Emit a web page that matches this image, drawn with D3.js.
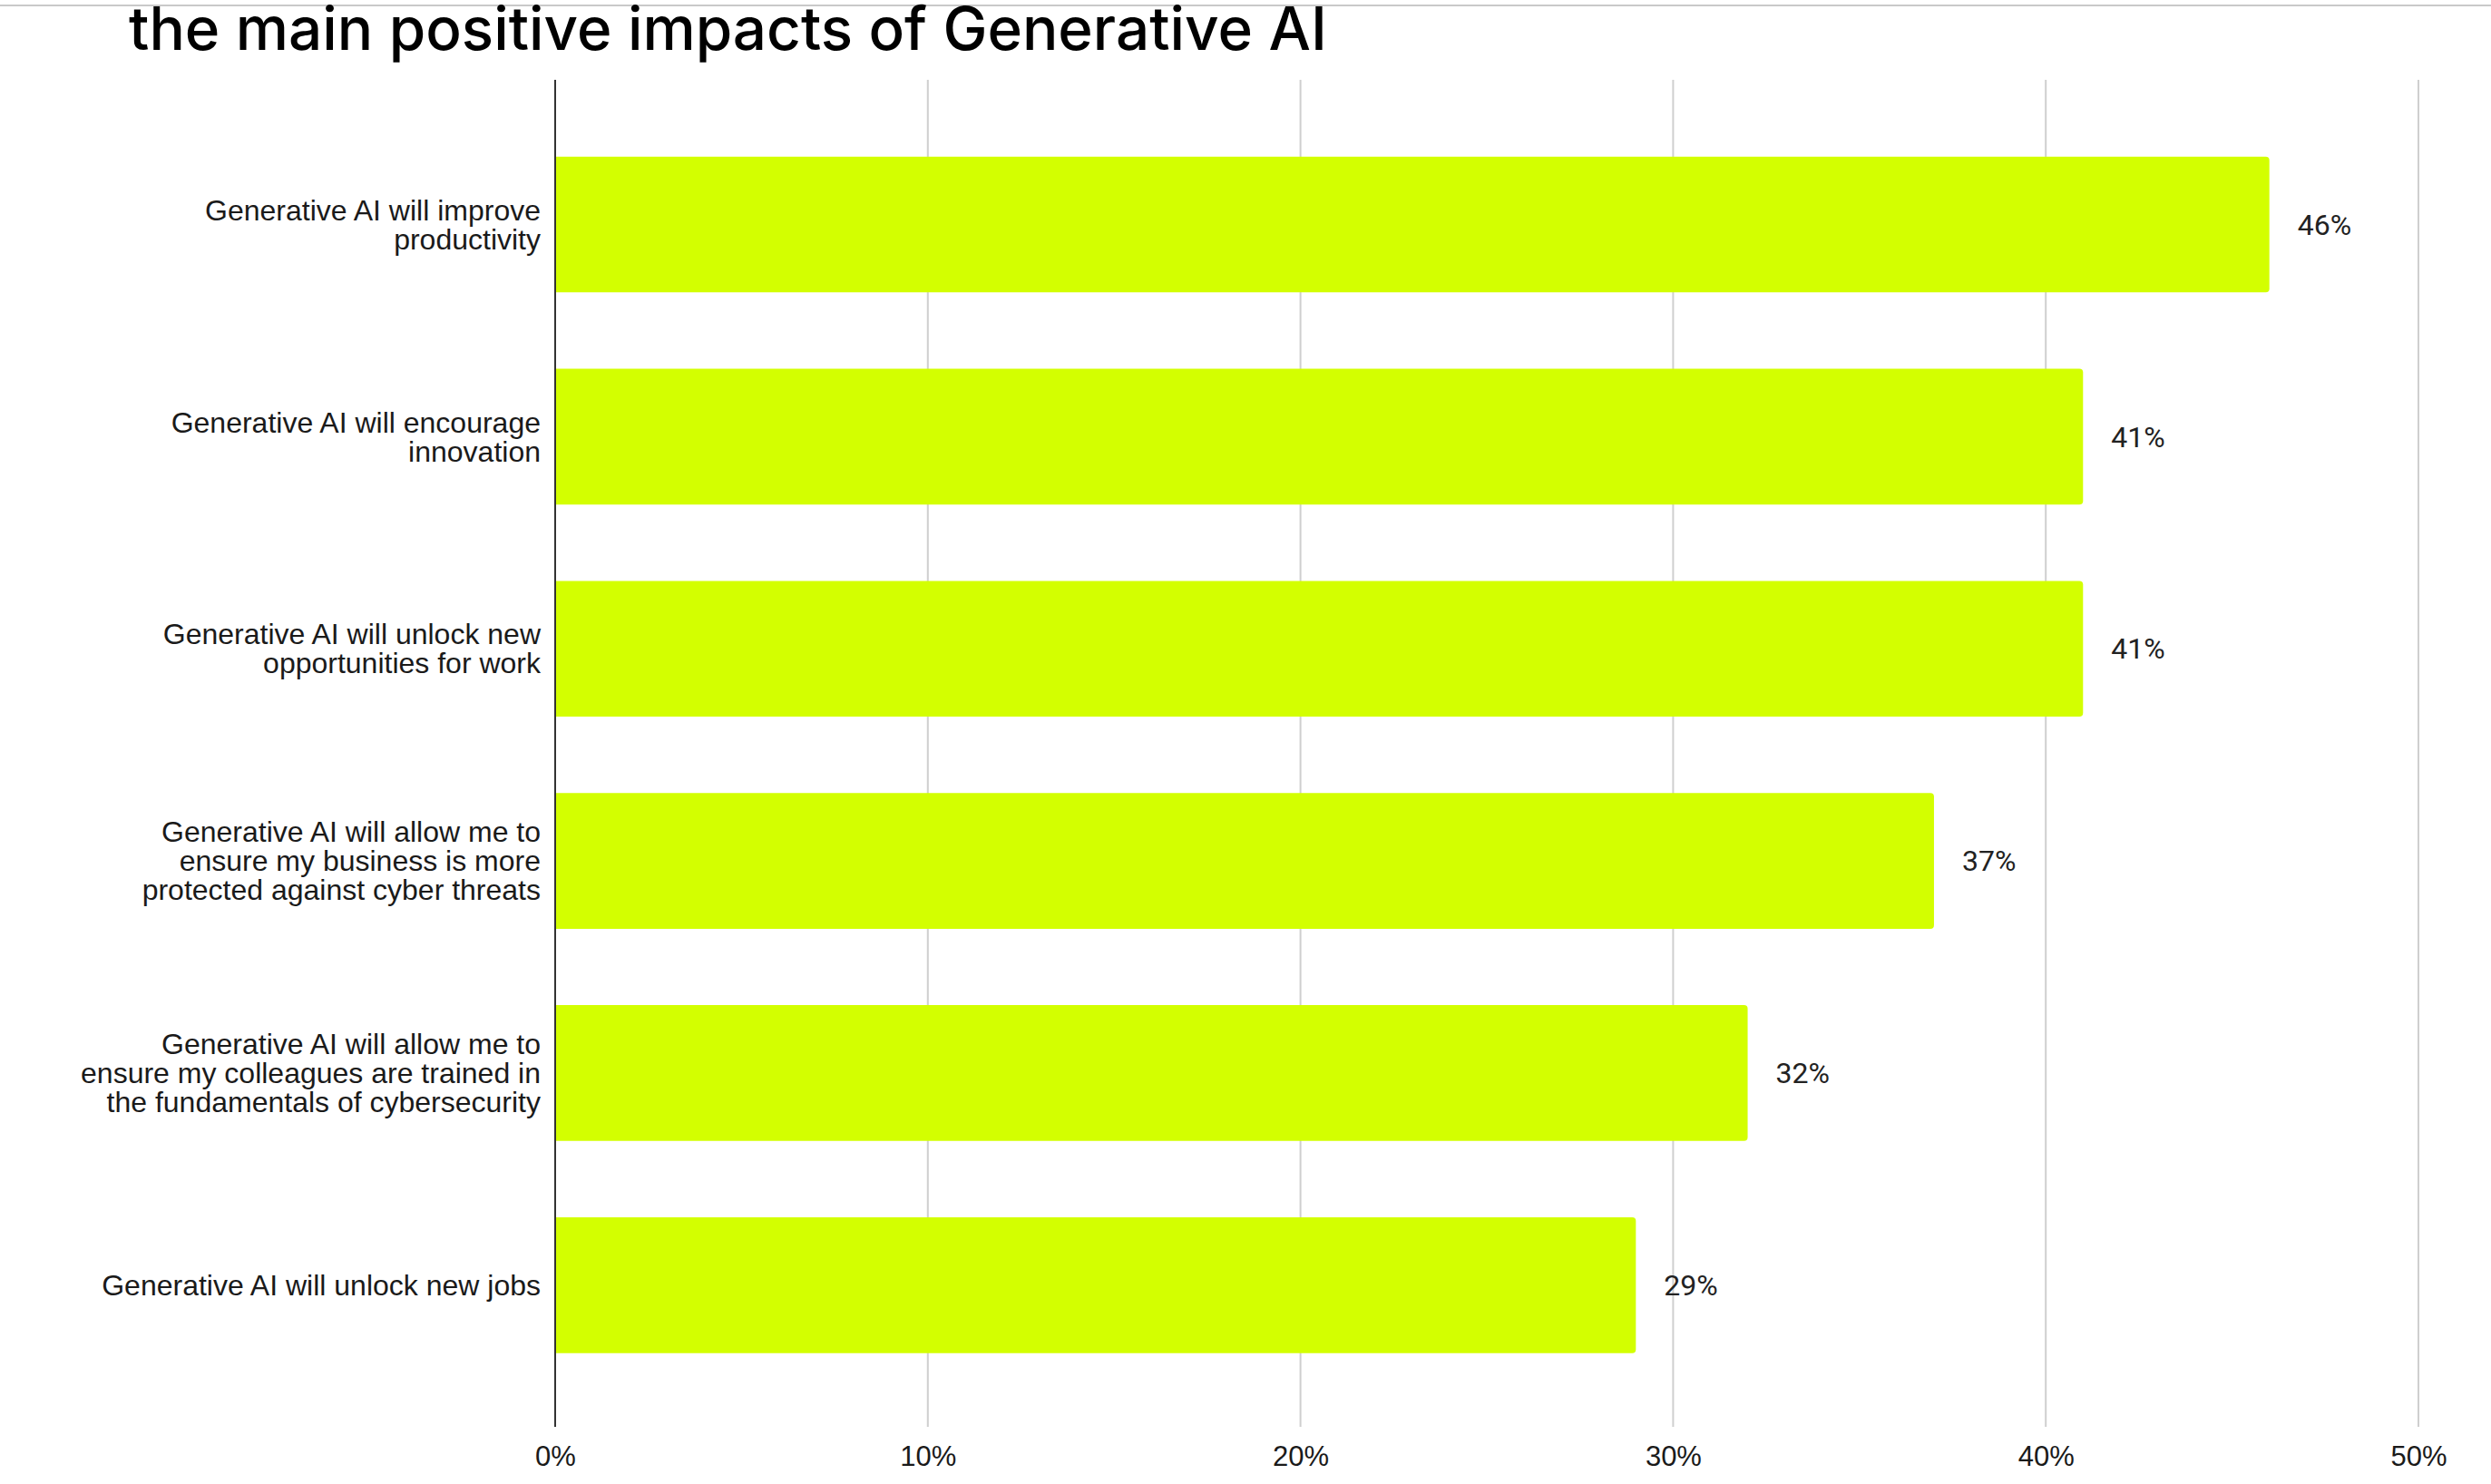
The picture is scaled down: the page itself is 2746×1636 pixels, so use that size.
<!DOCTYPE html>
<html>
<head>
<meta charset="utf-8">
<script src="https://cdn.jsdelivr.net/npm/d3@7"></script>
<style>
  html, body { margin: 0; padding: 0; background: #ffffff; }
  svg { display: block; }
</style>
</head>
<body>
<svg id="chart" width="2746" height="1636"></svg>
<script>
// Survey responses: share of respondents naming each positive impact
const categories = [
  ["Generative AI will improve", "productivity"],
  ["Generative AI will encourage", "innovation"],
  ["Generative AI will unlock new", "opportunities for work"],
  ["Generative AI will allow me to", "ensure my business is more", "protected against cyber threats"],
  ["Generative AI will allow me to", "ensure my colleagues are trained in", "the fundamentals of cybersecurity"],
  ["Generative AI will unlock new jobs"]
];
const values = [46, 41, 41, 37, 32, 29];
const tickValues = [0, 10, 20, 30, 40, 50];
const titleText = "the main positive impacts of Generative AI";

const W = 2746, H = 1636;
const svg = d3.select("#chart");

const plot = { left: 612, right: 2666, top: 88, bottom: 1573 };

const x = d3.scaleLinear().domain([0, 50]).range([plot.left, plot.right]);
const y = d3.scaleBand()
  .domain(d3.range(values.length))
  .range([plot.top, plot.bottom])
  .paddingInner(0.36)
  .paddingOuter(0.355)
  .align(0.51);

// thin rule across the top of the page
svg.append("line")
  .attr("x1", 0).attr("x2", W)
  .attr("y1", 6).attr("y2", 6)
  .attr("stroke", "#c9c9c9").attr("stroke-width", 2);

// title
const title = svg.append("text")
  .attr("x", 142).attr("y", 55)
  .attr("font-family", "Inter, 'Noto Sans', sans-serif")
  .attr("font-weight", 500)
  .attr("font-size", 64)
  .attr("fill", "#000")
  .text(titleText);
const tw = title.node().getComputedTextLength();
title.attr("font-size", 64 * 1321 / tw);

// vertical gridlines
svg.append("g")
  .selectAll("line")
  .data(tickValues.filter(d => d > 0))
  .join("line")
  .attr("x1", d => x(d)).attr("x2", d => x(d))
  .attr("y1", plot.top).attr("y2", plot.bottom)
  .attr("stroke", "#cfcfcf").attr("stroke-width", 2);

// bars with slightly rounded ends
const r = 4;
svg.append("g")
  .selectAll("path")
  .data(values)
  .join("path")
  .attr("fill", "#d3ff00")
  .attr("d", (d, i) => {
    const x0 = x(0), x1 = x(d), y0 = y(i), y1 = y(i) + y.bandwidth();
    return `M${x0},${y0}H${x1 - r}Q${x1},${y0} ${x1},${y0 + r}V${y1 - r}Q${x1},${y1} ${x1 - r},${y1}H${x0}Z`;
  });

// zero axis line
svg.append("line")
  .attr("x1", x(0)).attr("x2", x(0))
  .attr("y1", plot.top).attr("y2", plot.bottom)
  .attr("stroke", "#333").attr("stroke-width", 2);

// value labels
svg.append("g")
  .selectAll("text")
  .data(values)
  .join("text")
  .attr("x", d => x(d) + 31)
  .attr("y", (d, i) => y(i) + y.bandwidth() / 2)
  .attr("dy", "0.35em")
  .attr("font-family", "Roboto, sans-serif")
  .attr("font-size", 32)
  .attr("fill", "#222")
  .text(d => d + "%");

// category labels, right-aligned and centred on each bar
const lineH = 32;
const catG = svg.append("g")
  .attr("font-family", "'Liberation Sans', Arial, sans-serif")
  .attr("font-size", 32)
  .attr("fill", "#1a1a1a")
  .attr("text-anchor", "end");
categories.forEach((lines, i) => {
  const cy = y(i) + y.bandwidth() / 2;
  const t = catG.append("text")
    .attr("x", x(0) - 16)
    .attr("y", cy);
  lines.forEach((ln, k) => {
    t.append("tspan")
      .attr("x", x(0) - 16)
      .attr("y", cy + (k - (lines.length - 1) / 2) * lineH)
      .attr("dy", "0.35em")
      .text(ln);
  });
});

// x axis tick labels
const xAxis = d3.axisBottom(x)
  .tickValues(tickValues)
  .tickFormat(d => d + "%")
  .tickSize(0)
  .tickPadding(0);
const ax = svg.append("g")
  .attr("transform", `translate(0,${plot.bottom})`)
  .call(xAxis);
ax.select(".domain").remove();
ax.selectAll("text")
  .attr("font-family", "'Liberation Sans', Arial, sans-serif")
  .attr("font-size", 31)
  .attr("fill", "#1a1a1a")
  .attr("y", 32)
  .attr("dy", "0.35em");
</script>
</body>
</html>
